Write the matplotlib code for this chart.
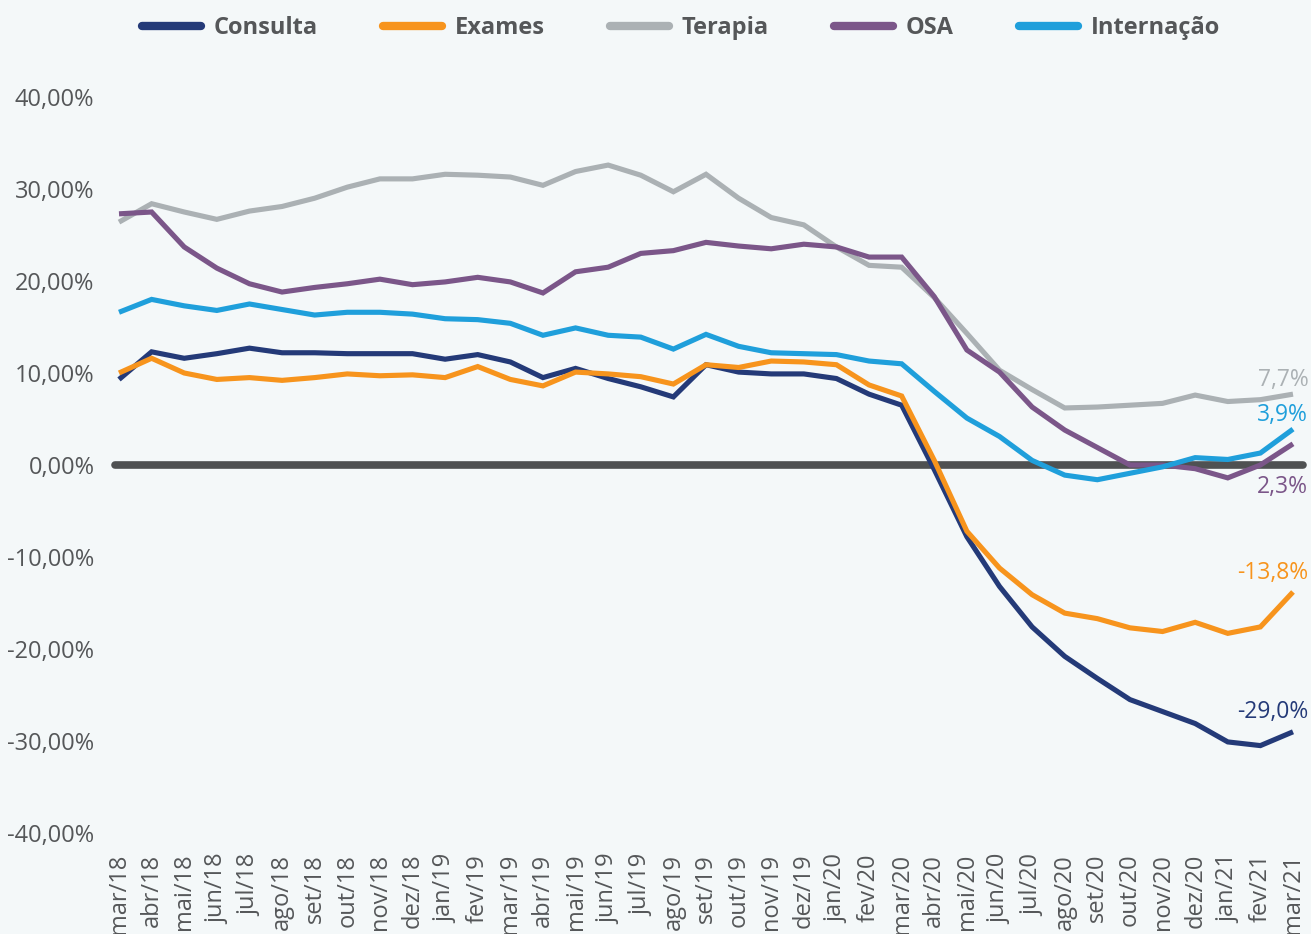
import matplotlib

matplotlib.use("Agg")
import matplotlib.pyplot as plt
from matplotlib.ticker import FuncFormatter

plt.rcParams["font.family"] = ["Open Sans", "DejaVu Sans"]

MONTHS = [
    "mar/18", "abr/18", "mai/18", "jun/18", "jul/18", "ago/18", "set/18", "out/18",
    "nov/18", "dez/18", "jan/19", "fev/19", "mar/19", "abr/19", "mai/19", "jun/19",
    "jul/19", "ago/19", "set/19", "out/19", "nov/19", "dez/19", "jan/20", "fev/20",
    "mar/20", "abr/20", "mai/20", "jun/20", "jul/20", "ago/20", "set/20", "out/20",
    "nov/20", "dez/20", "jan/21", "fev/21", "mar/21",
]

consulta = [
    9.3, 12.3, 11.6, 12.1, 12.7, 12.2, 12.2, 12.1, 12.1, 12.1, 11.5, 12.0, 11.2,
    9.5, 10.5, 9.4, 8.5, 7.4, 10.9, 10.1, 9.9, 9.9, 9.4, 7.7, 6.5, -0.5, -7.8,
    -13.2, -17.6, -20.8, -23.2, -25.5, -26.8, -28.1, -30.1, -30.5, -29.0,
]
exames = [
    10.0, 11.6, 10.0, 9.3, 9.5, 9.2, 9.5, 9.9, 9.7, 9.8, 9.5, 10.7, 9.3,
    8.6, 10.1, 9.9, 9.6, 8.8, 10.9, 10.6, 11.3, 11.2, 10.9, 8.7, 7.5, 0.5, -7.2,
    -11.2, -14.1, -16.1, -16.7, -17.7, -18.1, -17.1, -18.3, -17.6, -13.8,
]
terapia = [
    26.4, 28.4, 27.5, 26.7, 27.6, 28.1, 29.0, 30.2, 31.1, 31.1, 31.6, 31.5, 31.3,
    30.4, 31.9, 32.6, 31.5, 29.7, 31.6, 29.0, 26.9, 26.1, 23.7, 21.7, 21.5, 18.2, 14.3,
    10.3, 8.2, 6.2, 6.3, 6.5, 6.7, 7.6, 6.9, 7.1, 7.7,
]
osa = [
    27.3, 27.5, 23.7, 21.4, 19.7, 18.8, 19.3, 19.7, 20.2, 19.6, 19.9, 20.4, 19.9,
    18.7, 21.0, 21.5, 23.0, 23.3, 24.2, 23.8, 23.5, 24.0, 23.7, 22.6, 22.6, 18.3, 12.5,
    10.1, 6.3, 3.8, 1.9, 0.0, 0.0, -0.4, -1.4, 0.0, 2.3,
]
internacao = [
    16.6, 18.0, 17.3, 16.8, 17.5, 16.9, 16.3, 16.6, 16.6, 16.4, 15.9, 15.8, 15.4,
    14.1, 14.9, 14.1, 13.9, 12.6, 14.2, 12.9, 12.2, 12.1, 12.0, 11.3, 11.0, 8.0, 5.1,
    3.1, 0.5, -1.1, -1.6, -0.9, -0.2, 0.8, 0.6, 1.3, 3.9,
]

SERIES = [
    ("Consulta", consulta, "#243a78"),
    ("Exames", exames, "#f7941d"),
    ("Terapia", terapia, "#abb1b4"),
    ("OSA", osa, "#7b5689"),
    ("Internação", internacao, "#1f9fdb"),
]

# end-label offsets in points (dx, dy) from the last point
LABEL_OFFSETS = {
    "Consulta": (11, 14),
    "Exames": (11, 14),
    "Terapia": (11, 10),
    "OSA": (11, -31),
    "Internação": (11, 10),
}

BG = "#f4f8f9"
TEXT = "#555759"

fig = plt.figure(figsize=(13.11, 9.34), dpi=100, facecolor=BG)
ax = fig.add_axes([100 / 1311, 1 - 833 / 934, 1 - 100 / 1311, (833 - 97) / 934])
ax.set_facecolor(BG)

x = list(range(len(MONTHS)))
ax.axhline(0, xmin=(119 - 4 - 100) / 1211, xmax=(1303 - 100) / 1211,
           color="#4f5152", linewidth=5.5, solid_capstyle="round", zorder=1)

for name, values, color in SERIES:
    ax.plot(x, values, color=color, linewidth=3.7, solid_joinstyle="miter",
            solid_capstyle="butt", label=name, zorder=3)
    dx, dy = LABEL_OFFSETS[name]
    ax.annotate(
        f"{values[-1]:.1f}%".replace(".", ","),
        (x[-1], values[-1]),
        xytext=(dx, dy),
        textcoords="offset points",
        ha="right",
        va="center",
        fontsize=16.5,
        color=color,
        zorder=4,
    )

px = 32.61
ax.set_xlim(-19 / px, 36 + 18 / px)
ax.set_ylim(-40, 40)
ax.set_yticks(range(-40, 41, 10))
ax.yaxis.set_major_formatter(FuncFormatter(lambda v, _p: f"{v:.2f}%".replace(".", ",")))
ax.set_xticks(x)
ax.set_xticklabels(MONTHS, rotation=90)
ax.tick_params(axis="y", length=0, pad=4, labelsize=17, labelcolor=TEXT)
ax.tick_params(axis="x", length=0, pad=15, labelsize=17, labelcolor=TEXT)
for spine in ax.spines.values():
    spine.set_visible(False)

handles, labels = ax.get_legend_handles_labels()
leg = fig.legend(
    handles,
    labels,
    loc="center",
    bbox_to_anchor=(681 / 1311, 1 - 28 / 934),
    ncol=5,
    frameon=False,
    handlelength=2.5,
    handletextpad=0.55,
    columnspacing=2.75,
    prop={"weight": "bold", "size": 17},
)
for text in leg.get_texts():
    text.set_color(TEXT)
for line in leg.get_lines():
    line.set_linewidth(6)
    line.set_solid_capstyle("round")

fig.savefig("out.png", dpi=100, facecolor=BG)
plt.close(fig)
